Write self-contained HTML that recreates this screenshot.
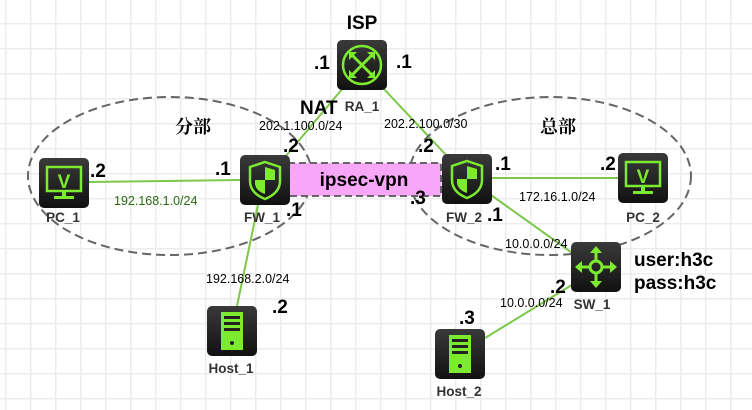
<!DOCTYPE html>
<html><head><meta charset="utf-8"><style>
body{margin:0;background:#fff;}
svg{display:block;font-family:"Liberation Sans","Noto Sans CJK SC",sans-serif;}
.b{font-weight:bold;font-size:19px;fill:#000}
.n{font-weight:bold;font-size:13.5px;fill:#333}
.s{font-size:12.5px;fill:#000}
</style></head><body>
<svg width="752" height="410" viewBox="0 0 752 410">
<defs>
<pattern id="g" x="5" y="-2" width="25" height="25" patternUnits="userSpaceOnUse">
<path d="M0 0V25M0 0H25" stroke="#ececec" stroke-width="3" fill="none"/>
</pattern>
<linearGradient id="ic" x1="0" y1="0" x2="0" y2="1"><stop offset="0" stop-color="#3a3a3a"/><stop offset="1" stop-color="#111"/></linearGradient>
<g id="box"><rect x="0" y="0" width="50" height="50" rx="5" fill="url(#ic)"/></g>
</defs>
<rect width="752" height="410" fill="url(#g)"/>

<g stroke="#7dc84a" stroke-width="2">
<line x1="88" y1="182" x2="240" y2="180"/>
<line x1="285" y1="157" x2="343" y2="88"/>
<line x1="383" y1="88" x2="447" y2="156"/>
<line x1="491" y1="178" x2="618" y2="178"/>
<line x1="491" y1="195" x2="575" y2="255"/>
<line x1="258" y1="205" x2="237" y2="306"/>
<line x1="485" y1="338" x2="575" y2="283"/>
</g>

<ellipse cx="170" cy="176" rx="142" ry="79" fill="none" stroke="#666" stroke-width="2" stroke-dasharray="9,5"/>
<ellipse cx="550" cy="176" rx="141" ry="79" fill="none" stroke="#666" stroke-width="2" stroke-dasharray="9,5"/>

<rect x="288" y="163" width="153" height="33" fill="#f8a6f8" stroke="#666" stroke-width="2" stroke-dasharray="7,4"/>
<text x="364" y="186" text-anchor="middle" class="b">ipsec-vpn</text>

<g transform="translate(337,40)"><use href="#box"/>
<circle cx="25" cy="25" r="19" fill="none" stroke="#7cea2e" stroke-width="2.5"/>
<g stroke="#7cea2e" stroke-width="3"><line x1="15" y1="15" x2="35" y2="35"/><line x1="35" y1="15" x2="15" y2="35"/></g>
<g fill="#7cea2e"><path d="M12 12h8l-8 8z"/><path d="M38 12h-8l8 8z"/><path d="M12 38h8l-8-8z"/><path d="M38 38h-8l8-8z"/></g>
</g>
<g transform="translate(240,155)"><use href="#box"/>
<path d="M25 7 L40 12 V26 Q40 38 25 44 Q10 38 10 26 V12 Z" fill="none" stroke="#7cea2e" stroke-width="2.5"/>
<path d="M25 12 L35 15 V25 H25 Z M25 25 H15 V29 Q16 36 25 39 Z" fill="#7cea2e"/>
</g>
<g transform="translate(442,154)"><use href="#box"/>
<path d="M25 7 L40 12 V26 Q40 38 25 44 Q10 38 10 26 V12 Z" fill="none" stroke="#7cea2e" stroke-width="2.5"/>
<path d="M25 12 L35 15 V25 H25 Z M25 25 H15 V29 Q16 36 25 39 Z" fill="#7cea2e"/>
</g>
<g transform="translate(39,158)"><use href="#box"/>
<rect x="8" y="9" width="34" height="24" fill="none" stroke="#7cea2e" stroke-width="2.5"/>
<text x="25" y="30" text-anchor="middle" font-weight="bold" font-size="19" fill="#7cea2e">V</text>
<rect x="23" y="33" width="4" height="5" fill="#7cea2e"/><rect x="15" y="38" width="20" height="3" fill="#7cea2e"/>
</g>
<g transform="translate(618,153)"><use href="#box"/>
<rect x="8" y="9" width="34" height="24" fill="none" stroke="#7cea2e" stroke-width="2.5"/>
<text x="25" y="30" text-anchor="middle" font-weight="bold" font-size="19" fill="#7cea2e">V</text>
<rect x="23" y="33" width="4" height="5" fill="#7cea2e"/><rect x="15" y="38" width="20" height="3" fill="#7cea2e"/>
</g>
<g transform="translate(571,242)"><use href="#box"/>
<circle cx="25" cy="25" r="6" fill="none" stroke="#7cea2e" stroke-width="3"/>
<g stroke="#7cea2e" stroke-width="3"><line x1="25" y1="8" x2="25" y2="19"/><line x1="25" y1="31" x2="25" y2="42"/><line x1="8" y1="25" x2="19" y2="25"/><line x1="31" y1="25" x2="42" y2="25"/></g>
<g fill="#7cea2e"><path d="M25 4l6 7h-12z"/><path d="M25 46l6-7h-12z"/><path d="M4 25l7-6v12z"/><path d="M46 25l-7-6v12z"/></g>
</g>
<g transform="translate(207,306)"><use href="#box"/>
<rect x="14" y="6" width="22" height="38" fill="#7cea2e"/>
<g fill="#222"><rect x="17" y="10" width="16" height="3"/><rect x="17" y="16" width="16" height="3"/><rect x="17" y="22" width="16" height="3"/><circle cx="25" cy="37" r="2"/></g>
</g>
<g transform="translate(435,329)"><use href="#box"/>
<rect x="14" y="6" width="22" height="38" fill="#7cea2e"/>
<g fill="#222"><rect x="17" y="10" width="16" height="3"/><rect x="17" y="16" width="16" height="3"/><rect x="17" y="22" width="16" height="3"/><circle cx="25" cy="37" r="2"/></g>
</g>

<text x="362" y="111" text-anchor="middle" class="n">RA_1</text>
<text x="262" y="222" text-anchor="middle" class="n">FW_1</text>
<text x="464" y="222" text-anchor="middle" class="n">FW_2</text>
<text x="63" y="222" text-anchor="middle" class="n">PC_1</text>
<text x="643" y="222" text-anchor="middle" class="n">PC_2</text>
<text x="592" y="309" text-anchor="middle" class="n">SW_1</text>
<text x="231" y="373" text-anchor="middle" class="n">Host_1</text>
<text x="459" y="396" text-anchor="middle" class="n">Host_2</text>

<text x="362" y="29" text-anchor="middle" class="b">ISP</text>
<text x="314" y="69" class="b">.1</text>
<text x="396" y="68" class="b">.1</text>
<text x="300" y="114" class="b">NAT</text>
<text x="283" y="152" class="b">.2</text>
<text x="418" y="152" class="b">.2</text>
<text x="90" y="177" class="b">.2</text>
<text x="215" y="175" class="b">.1</text>
<text x="286" y="216" class="b">.1</text>
<text x="410" y="204" class="b">.3</text>
<text x="495" y="170" class="b">.1</text>
<text x="600" y="170" class="b">.2</text>
<text x="487" y="221" class="b">.1</text>
<text x="272" y="313" class="b">.2</text>
<text x="459" y="324" class="b">.3</text>
<text x="550" y="293" class="b">.2</text>
<text x="634" y="266" class="b">user:h3c</text>
<text x="634" y="289" class="b">pass:h3c</text>
<text x="193" y="133" text-anchor="middle" font-weight="bold" font-size="18" fill="#000" font-family="'Noto Serif CJK SC',serif">分部</text>
<text x="558" y="133" text-anchor="middle" font-weight="bold" font-size="18" fill="#000" font-family="'Noto Serif CJK SC',serif">总部</text>

<text x="259" y="130" class="s">202.1.100.0/24</text>
<text x="384" y="128" class="s">202.2.100.0/30</text>
<text x="114" y="205" class="s" style="fill:#2a6a10">192.168.1.0/24</text>
<text x="519" y="201" class="s">172.16.1.0/24</text>
<text x="505" y="248" class="s">10.0.0.0/24</text>
<text x="206" y="283" class="s">192.168.2.0/24</text>
<text x="500" y="307" class="s">10.0.0.0/24</text>
</svg>
</body></html>
